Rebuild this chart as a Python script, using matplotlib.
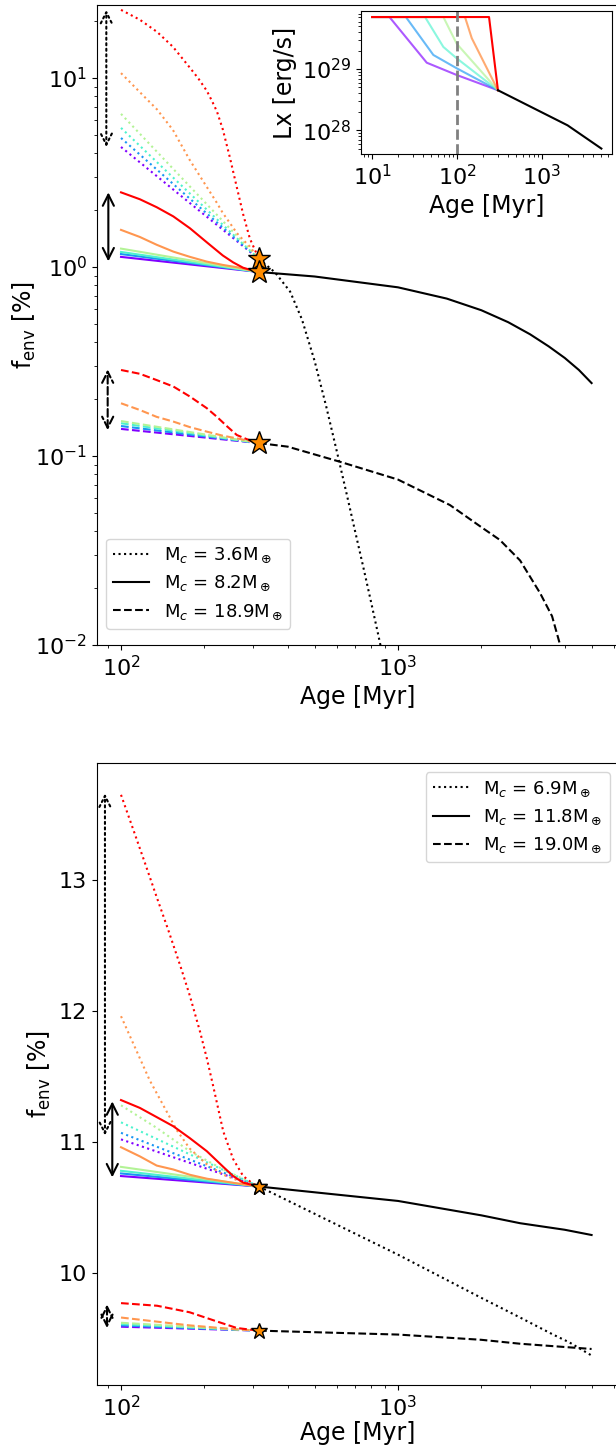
import numpy as np
import matplotlib
matplotlib.use("Agg")
import matplotlib.pyplot as plt

# ---------------------------------------------------------------------------
# Envelope-fraction tracks, one list per X-ray history (purple -> red)
# ---------------------------------------------------------------------------
track_shades = np.linspace(0, 1, 6)
merge_age = 315.0

# Upper panel, M_c = 3.6 (dotted)
top_dot_age = [
    [100, 177, 247, 315],
    [100, 177, 247, 315],
    [100, 177, 247, 315],
    [100, 177, 247, 315],
    [100, 117, 135, 154, 177, 204, 222, 233, 247, 262, 276, 292, 315],
    [100, 117, 135, 154, 177, 190, 204, 213, 222, 233, 247, 262, 276, 292, 315],
]
top_dot_val = [
    [4.31, 2.18, 1.47, 1.10],
    [4.81, 2.30, 1.50, 1.10],
    [5.44, 2.45, 1.54, 1.10],
    [6.45, 2.67, 1.60, 1.10],
    [10.6, 8.4, 6.8, 5.3, 3.68, 2.65, 2.18, 1.93, 1.71, 1.51, 1.39, 1.28, 1.10],
    [22.9, 20.3, 17.5, 14.6, 11.35, 9.95, 8.55, 7.55, 6.64, 5.35, 3.81, 2.63, 1.90,
     1.41, 1.10],
]
# Upper panel, M_c = 8.2 (solid)
top_sol_age = [
    [100, 315],
    [100, 315],
    [100, 315],
    [100, 315],
    [100, 117, 134.5, 154.5, 177.5, 204, 233, 269, 315],
    [100, 117, 134.5, 154.5, 177.5, 204, 233, 254, 276, 301, 315],
]
top_sol_val = [
    [1.13, 0.94],
    [1.17, 0.94],
    [1.20, 0.94],
    [1.25, 0.94],
    [1.57, 1.44, 1.31, 1.205, 1.13, 1.067, 1.025, 0.99, 0.94],
    [2.48, 2.28, 2.07, 1.85, 1.60, 1.35, 1.15, 1.057, 0.99, 0.955, 0.94],
]
# Upper panel, M_c = 18.9 (dashed)
top_das_age = [
    [100, 315],
    [100, 315],
    [100, 315],
    [100, 315],
    [100, 117, 134.5, 154.5, 177.5, 204, 233, 269, 315],
    [100, 117, 134.5, 154.5, 177.5, 204, 222, 242, 262, 285, 315],
]
top_das_val = [
    [0.139, 0.117],
    [0.144, 0.117],
    [0.149, 0.117],
    [0.153, 0.117],
    [0.190, 0.175, 0.161, 0.152, 0.142, 0.1345, 0.128, 0.123, 0.117],
    [0.285, 0.272, 0.252, 0.233, 0.206, 0.179, 0.161, 0.143, 0.129, 0.1226, 0.117],
]
# Upper panel, common evolution after saturation ends
top_dot_tail_age = [315, 360, 408, 450, 500, 550, 603, 650, 700, 750, 800, 850, 880, 900]
top_dot_tail_val = [1.10, 0.935, 0.74, 0.528, 0.318, 0.184, 0.104, 0.0646, 0.040,
                    0.0257, 0.0168, 0.0112, 0.0088, 0.0074]
top_sol_tail_age = [315, 500, 1000, 1500, 2000, 2500, 3000, 3500, 4000, 4500, 5000]
top_sol_tail_val = [0.94, 0.89, 0.78, 0.68, 0.59, 0.51, 0.44, 0.38, 0.33, 0.285, 0.243]
top_das_tail_age = [315, 400, 620, 1000, 1540, 2000, 2330, 2760, 3260, 3600, 3850, 4000]
top_das_tail_val = [0.117, 0.112, 0.093, 0.075, 0.055, 0.042, 0.036, 0.028, 0.0188,
                    0.0142, 0.0100, 0.0075]
top_labels = [r"M$_c$ = 3.6M$_\oplus$", r"M$_c$ = 8.2M$_\oplus$", r"M$_c$ = 18.9M$_\oplus$"]
top_arrow_age = [88.5, 90.0, 89.5]
top_arrow_span = [(4.31, 22.9), (1.07, 2.48), (0.137, 0.287)]

# Lower panel, M_c = 6.9 (dotted)
bot_dot_age = [
    [100, 315],
    [100, 315],
    [100, 315],
    [100, 134, 177, 234, 315],
    [100, 127, 159, 177, 204, 234, 269, 300, 315],
    [100, 110.5, 122, 135, 148, 164, 177, 193, 204, 215, 234, 254, 276, 300, 315],
]
bot_dot_val = [
    [11.02, 10.66],
    [11.07, 10.66],
    [11.15, 10.66],
    [11.28, 11.11, 10.93, 10.79, 10.66],
    [11.96, 11.47, 11.09, 10.95, 10.83, 10.75, 10.70, 10.67, 10.66],
    [13.65, 13.39, 13.13, 12.86, 12.62, 12.34, 12.12, 11.84, 11.64, 11.43, 11.08,
     10.87, 10.74, 10.68, 10.66],
]
# Lower panel, M_c = 11.8 (solid)
bot_sol_age = [
    [100, 315],
    [100, 315],
    [100, 315],
    [100, 315],
    [100, 117, 134.5, 154.5, 177, 204, 234, 269, 315],
    [100, 117, 134.5, 154.5, 177, 204, 234, 254, 276, 300, 315],
]
bot_sol_val = [
    [10.74, 10.66],
    [10.76, 10.66],
    [10.78, 10.66],
    [10.81, 10.66],
    [10.96, 10.89, 10.82, 10.79, 10.75, 10.72, 10.70, 10.68, 10.66],
    [11.32, 11.26, 11.19, 11.12, 11.03, 10.93, 10.81, 10.74, 10.69, 10.67, 10.66],
]
# Lower panel, M_c = 19.0 (dashed)
bot_das_age = [
    [100, 315],
    [100, 315],
    [100, 315],
    [100, 315],
    [100, 177, 260, 315],
    [100, 135, 177, 222, 262, 300, 315],
]
bot_das_val = [
    [9.59, 9.56],
    [9.60, 9.56],
    [9.61, 9.56],
    [9.62, 9.56],
    [9.66, 9.60, 9.57, 9.56],
    [9.77, 9.75, 9.70, 9.63, 9.58, 9.565, 9.56],
]
bot_dot_tail_age = [315, 1000, 2000, 2760, 3630, 4160, 5000]
bot_dot_tail_val = [10.66, 10.14, 9.81, 9.66, 9.53, 9.47, 9.37]
bot_sol_tail_age = [315, 1000, 2000, 2760, 4000, 5000]
bot_sol_tail_val = [10.66, 10.55, 10.44, 10.38, 10.33, 10.29]
bot_das_tail_age = [315, 1000, 2000, 2760, 5000]
bot_das_tail_val = [9.56, 9.53, 9.49, 9.46, 9.42]
bot_labels = [r"M$_c$ = 6.9M$_\oplus$", r"M$_c$ = 11.8M$_\oplus$", r"M$_c$ = 19.0M$_\oplus$"]
bot_arrow_age = [87.5, 93.0, 89.0]
bot_arrow_span = [(11.05, 13.66), (10.73, 11.31), (9.58, 9.76)]

# X-ray luminosity histories for the inset
lx_age = [
    [10, 16, 44, 99, 303],
    [10, 25, 52.6, 99, 303],
    [10, 42, 69, 99, 303],
    [10, 69, 99, 303],
    [10, 124, 149, 303],
    [10, 238, 303],
]
lx_val = [
    [7.1e29, 7.1e29, 1.27e29, 8.0e28, 4.5e28],
    [7.1e29, 7.1e29, 1.7e29, 1.03e29, 4.5e28],
    [7.1e29, 7.1e29, 2.3e29, 1.5e29, 4.5e28],
    [7.1e29, 7.1e29, 2.6e29, 4.5e28],
    [7.1e29, 7.1e29, 3.2e29, 4.5e28],
    [7.1e29, 7.1e29, 4.5e28],
]
lx_tail_age = [303, 2000, 5000]
lx_tail_val = [4.5e28, 1.2e28, 5.0e27]
lx_alpha = [0.65, 0.65, 0.65, 0.7, 0.8, 1.0]

# ---------------------------------------------------------------------------
plt.rcParams["font.family"] = ["DejaVu Sans"]
plt.rcParams["xtick.labelsize"] = 16
plt.rcParams["ytick.labelsize"] = 16
plt.rcParams["axes.labelsize"] = 17

colours = plt.cm.rainbow(track_shades)
W, H = 616, 1446
fig = plt.figure(figsize=(W / 100, H / 100), dpi=100)


def frac(x0, y_top, x1, y_bot):
    return [x0 / W, 1 - y_bot / H, (x1 - x0) / W, (y_bot - y_top) / H]


def draw_family(ax, ages, vals, style):
    for a, v, c in zip(ages, vals, colours):
        ax.plot(a, v, ls=style, color=c, lw=1.5)


def draw_arrow(ax, x, lo, hi, style):
    ax.annotate("", xy=(x, hi), xytext=(x, lo),
                arrowprops=dict(arrowstyle="<->", color="k", lw=1.5, ls=style,
                                mutation_scale=20, shrinkA=0, shrinkB=0))


styles = [":", "-", "--"]

# ---- upper panel ----------------------------------------------------------
ax1 = fig.add_axes(frac(97, 5, 619, 645))
ax1.set_xscale("log")
ax1.set_yscale("log")
for ages, vals, st in zip([top_dot_age, top_sol_age, top_das_age],
                          [top_dot_val, top_sol_val, top_das_val], styles):
    draw_family(ax1, ages, vals, st)
for ta, tv, st, lab in zip([top_dot_tail_age, top_sol_tail_age, top_das_tail_age],
                           [top_dot_tail_val, top_sol_tail_val, top_das_tail_val],
                           styles, top_labels):
    ax1.plot(ta, tv, ls=st, color="k", lw=1.5, label=lab)
for tv in [top_dot_tail_val, top_sol_tail_val, top_das_tail_val]:
    ax1.plot(merge_age, tv[0], marker="*", ms=17, mfc="darkorange", mec="k",
             mew=1.0, zorder=6)
for x, (lo, hi), st in zip(top_arrow_age, top_arrow_span, styles):
    draw_arrow(ax1, x, lo, hi, st)
ax1.set_xlim(81.9, 6280)
ax1.set_ylim(0.01, 24.3)
ax1.set_xlabel("Age [Myr]")
ax1.set_ylabel(r"f$_{\rm env}$ [%]", labelpad=-2)
ax1.legend(loc="lower left", bbox_to_anchor=(0.0, 0.011), fontsize=13)

# ---- inset: X-ray luminosity ----------------------------------------------
ax3 = fig.add_axes(frac(361, 11, 612, 154))
ax3.set_xscale("log")
ax3.set_yscale("log")
for a, v, c, al in zip(lx_age, lx_val, colours, lx_alpha):
    ax3.plot(a, v, color=c, lw=1.5, alpha=al)
ax3.plot(lx_tail_age, lx_tail_val, color="k", lw=1.5)
ax3.axvline(100, color="gray", ls="--", lw=2)
ax3.set_xlim(7.4, 6670)
ax3.set_ylim(10 ** 27.61, 10 ** 29.95)
ax3.set_xlabel("Age [Myr]")
ax3.set_ylabel("Lx [erg/s]")

# ---- lower panel ----------------------------------------------------------
ax2 = fig.add_axes(frac(97, 763, 619, 1385))
ax2.set_xscale("log")
for ages, vals, st in zip([bot_dot_age, bot_sol_age, bot_das_age],
                          [bot_dot_val, bot_sol_val, bot_das_val], styles):
    draw_family(ax2, ages, vals, st)
for ta, tv, st, lab in zip([bot_dot_tail_age, bot_sol_tail_age, bot_das_tail_age],
                           [bot_dot_tail_val, bot_sol_tail_val, bot_das_tail_val],
                           styles, bot_labels):
    ax2.plot(ta, tv, ls=st, color="k", lw=1.5, label=lab)
for tv in [bot_dot_tail_val, bot_sol_tail_val, bot_das_tail_val]:
    ax2.plot(merge_age, tv[0], marker="*", ms=12, mfc="darkorange", mec="k",
             mew=1.0, zorder=6)
for x, (lo, hi), st in zip(bot_arrow_age, bot_arrow_span, styles):
    draw_arrow(ax2, x, lo, hi, st)
ax2.set_xlim(81.9, 6280)
ax2.set_ylim(9.145, 13.893)
ax2.set_yticks([10, 11, 12, 13])
ax2.set_xlabel("Age [Myr]", labelpad=1)
ax2.set_ylabel(r"f$_{\rm env}$ [%]")
ax2.legend(loc="upper right", fontsize=13)

fig.savefig("out.png", dpi=100)
